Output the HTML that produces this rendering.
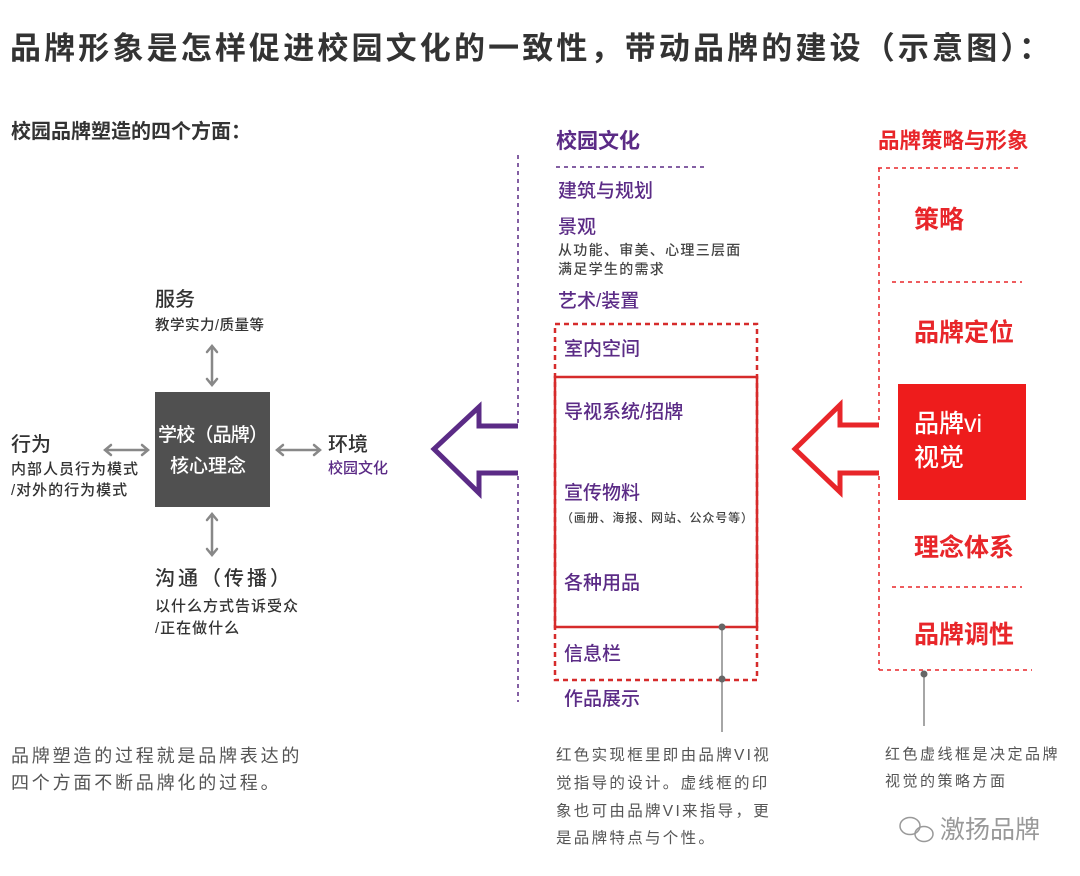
<!DOCTYPE html>
<html><head><meta charset="utf-8"><style>
html,body{margin:0;padding:0;background:#fff;}
svg{display:block;}
text{font-family:"Liberation Sans","Noto Sans CJK SC",sans-serif;}
.m{font-weight:500;}
</style></head><body>
<svg width="1080" height="876" viewBox="0 0 1080 876" xmlns="http://www.w3.org/2000/svg">
<rect width="1080" height="876" fill="#fff"/>
<text x="10" y="59" font-size="31" font-weight="bold" fill="#333" textLength="1040">品牌形象是怎样促进校园文化的一致性，带动品牌的建设（示意图）：</text>
<text x="11" y="138" font-size="20" font-weight="bold" fill="#333">校园品牌塑造的四个方面：</text>

<rect x="155" y="392" width="115" height="115" fill="#505050"/>
<text x="158" y="441" font-size="19" fill="#fff" class="m" textLength="110">学校（品牌）</text>
<text x="170" y="472" font-size="19" fill="#fff" class="m">核心理念</text>

<text x="155" y="306" font-size="20" fill="#333" class="m">服务</text>
<text x="155" y="330" font-size="14.5" fill="#333" class="m" letter-spacing="0.5">教学实力/质量等</text>
<text x="11" y="451" font-size="20" fill="#333" class="m">行为</text>
<text x="11" y="474" font-size="15" fill="#333" class="m" letter-spacing="1">内部人员行为模式</text>
<text x="11" y="495" font-size="15" fill="#333" class="m" letter-spacing="1">/对外的行为模式</text>
<text x="328" y="451" font-size="20" fill="#333" class="m">环境</text>
<text x="328" y="473" font-size="15" fill="#5b2b86" class="m">校园文化</text>
<text x="155" y="585" font-size="20" fill="#333" class="m" textLength="135">沟通（传播）</text>
<text x="155" y="611" font-size="15" fill="#333" class="m" letter-spacing="1">以什么方式告诉受众</text>
<text x="155" y="633" font-size="15" fill="#333" class="m" letter-spacing="1">/正在做什么</text>

<g stroke="#888" stroke-width="2.5" fill="none" stroke-linecap="round">
<line x1="212" y1="347" x2="212" y2="384"/><polyline points="207,352 212,346 217,352"/><polyline points="207,379 212,385 217,379"/>
<line x1="212" y1="515" x2="212" y2="554"/><polyline points="207,520 212,514 217,520"/><polyline points="207,549 212,555 217,549"/>
<line x1="106" y1="450" x2="147" y2="450"/><polyline points="111,445 105,450 111,455"/><polyline points="142,445 148,450 142,455"/>
<line x1="278" y1="450" x2="319" y2="450"/><polyline points="283,445 277,450 283,455"/><polyline points="314,445 320,450 314,455"/>
</g>

<text x="11" y="762" font-size="18" fill="#555" letter-spacing="2.8">品牌塑造的过程就是品牌表达的</text>
<text x="11" y="789" font-size="18" fill="#555" letter-spacing="2.8">四个方面不断品牌化的过程。</text>

<g stroke="#5b2b86" stroke-width="1.5" stroke-dasharray="4,4" fill="none">
<line x1="518" y1="155" x2="518" y2="424"/>
<line x1="518" y1="476" x2="518" y2="702"/>
<line x1="556" y1="167" x2="705" y2="167"/>
</g>
<polyline points="518,426 479,426 479,407 434,449 479,493 479,473 518,473" fill="none" stroke="#5b2b86" stroke-width="5"/>

<text x="556" y="148" font-size="21" font-weight="bold" fill="#5b2b86">校园文化</text>
<text x="558" y="197" font-size="19" fill="#5b2b86" class="m">建筑与规划</text>
<text x="558" y="233" font-size="19" fill="#5b2b86" class="m">景观</text>
<text x="558" y="255" font-size="14" fill="#444" class="m" letter-spacing="1.3">从功能、审美、心理三层面</text>
<text x="558" y="274" font-size="14" fill="#444" class="m" letter-spacing="1.3">满足学生的需求</text>
<text x="558" y="307" font-size="19" fill="#5b2b86" class="m">艺术/装置</text>

<rect x="555" y="324" width="202" height="356" fill="none" stroke="#d62b2b" stroke-width="2.5" stroke-dasharray="5,4"/>
<rect x="555" y="377" width="202" height="250" fill="none" stroke="#d62b2b" stroke-width="2.5"/>
<text x="564" y="355" font-size="19" fill="#5b2b86" class="m">室内空间</text>
<text x="564" y="418" font-size="19" fill="#5b2b86" class="m">导视系统/招牌</text>
<text x="564" y="499" font-size="19" fill="#5b2b86" class="m">宣传物料</text>
<text x="561" y="522" font-size="12" fill="#444" class="m" textLength="192">（画册、海报、网站、公众号等）</text>
<text x="564" y="589" font-size="19" fill="#5b2b86" class="m">各种用品</text>
<text x="564" y="660" font-size="19" fill="#5b2b86" class="m">信息栏</text>
<text x="564" y="705" font-size="19" fill="#5b2b86" class="m">作品展示</text>
<line x1="722" y1="627" x2="722" y2="732" stroke="#888" stroke-width="1.5"/>
<circle cx="722" cy="627" r="3.5" fill="#666"/>
<circle cx="722" cy="679" r="3.5" fill="#666"/>

<text x="556" y="760" font-size="15.5" fill="#555" letter-spacing="2.3">红色实现框里即由品牌VI视</text>
<text x="556" y="788" font-size="15.5" fill="#555" letter-spacing="2.3">觉指导的设计。虚线框的印</text>
<text x="556" y="816" font-size="15.5" fill="#555" letter-spacing="2.3">象也可由品牌VI来指导，更</text>
<text x="556" y="843" font-size="15.5" fill="#555" letter-spacing="2.3">是品牌特点与个性。</text>

<text x="878" y="148" font-size="21.5" font-weight="bold" fill="#e8262a">品牌策略与形象</text>
<g stroke="#e8262a" stroke-width="1.5" stroke-dasharray="4,4" fill="none">
<line x1="878" y1="168" x2="1022" y2="168"/>
<line x1="879" y1="168" x2="879" y2="424"/>
<line x1="879" y1="476" x2="879" y2="670"/>
<line x1="892" y1="282" x2="1022" y2="282"/>
<line x1="892" y1="587" x2="1022" y2="587"/>
<line x1="879" y1="670" x2="1032" y2="670"/>
</g>
<polyline points="879,425 840,425 840,405 795,449 840,492 840,473 879,473" fill="none" stroke="#e8262a" stroke-width="5"/>
<rect x="898" y="384" width="128" height="116" fill="#ee1c1c"/>
<text x="914" y="432" font-size="25" fill="#fff" class="m">品牌vi</text>
<text x="914" y="466" font-size="25" fill="#fff" class="m">视觉</text>
<text x="914" y="228" font-size="25" font-weight="bold" fill="#e8262a">策略</text>
<text x="914" y="341" font-size="25" font-weight="bold" fill="#e8262a">品牌定位</text>
<text x="914" y="556" font-size="25" font-weight="bold" fill="#e8262a">理念体系</text>
<text x="914" y="643" font-size="25" font-weight="bold" fill="#e8262a">品牌调性</text>
<line x1="924" y1="674" x2="924" y2="726" stroke="#888" stroke-width="1.5"/>
<circle cx="924" cy="674" r="3.5" fill="#666"/>

<text x="885" y="759" font-size="15" fill="#555" letter-spacing="2.5">红色虚线框是决定品牌</text>
<text x="885" y="786" font-size="15" fill="#555" letter-spacing="2.5">视觉的策略方面</text>

<g fill="none" stroke="#999" stroke-width="1.5">
<ellipse cx="910" cy="826" rx="10" ry="8.5"/>
<ellipse cx="924" cy="834" rx="9" ry="7.5"/>
</g>
<text x="940" y="838" font-size="25" fill="#999">激扬品牌</text>
</svg>
</body></html>
